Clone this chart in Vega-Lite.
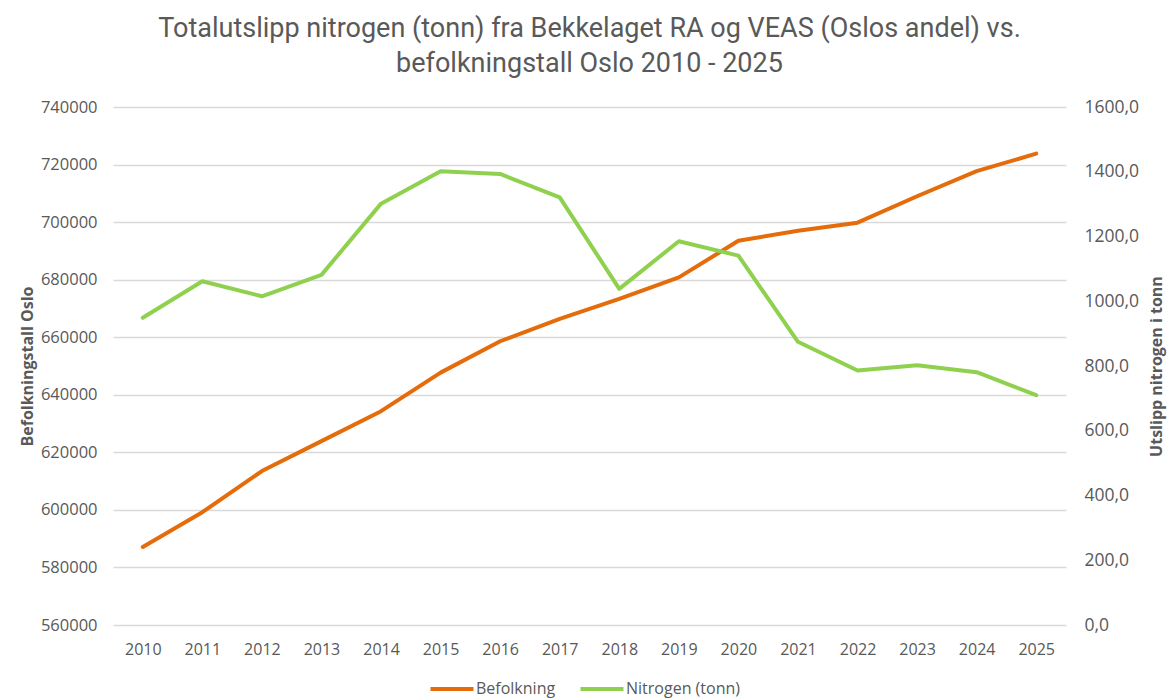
{
  "$schema": "https://vega.github.io/schema/vega-lite/v6.json",
  "autosize": {"type": "none"},
  "width": 953,
  "height": 518,
  "padding": {"left": 113, "right": 101, "top": 107, "bottom": 75},
  "background": "white",
  "title": {
    "text": ["Totalutslipp nitrogen (tonn) fra Bekkelaget RA og VEAS (Oslos andel) vs.", "befolkningstall Oslo 2010 - 2025"],
    "font": "Roboto",
    "fontSize": 27,
    "fontWeight": "normal",
    "color": "#595959",
    "lineHeight": 35,
    "anchor": "middle",
    "offset": 20
  },
  "data": {
    "values": [
      {"year": "2010", "befolkning": 587100, "nitrogen": 948.8},
      {"year": "2011", "befolkning": 599200, "nitrogen": 1061.7},
      {"year": "2012", "befolkning": 613500, "nitrogen": 1015.4},
      {"year": "2013", "befolkning": 623900, "nitrogen": 1081.5},
      {"year": "2014", "befolkning": 634300, "nitrogen": 1301.5},
      {"year": "2015", "befolkning": 647700, "nitrogen": 1401.2},
      {"year": "2016", "befolkning": 658600, "nitrogen": 1393.2},
      {"year": "2017", "befolkning": 666400, "nitrogen": 1321.0},
      {"year": "2018", "befolkning": 673300, "nitrogen": 1038.3},
      {"year": "2019", "befolkning": 680800, "nitrogen": 1185.2},
      {"year": "2020", "befolkning": 693500, "nitrogen": 1141.0},
      {"year": "2021", "befolkning": 697000, "nitrogen": 874.7},
      {"year": "2022", "befolkning": 699800, "nitrogen": 786.1},
      {"year": "2023", "befolkning": 709000, "nitrogen": 802.5},
      {"year": "2024", "befolkning": 717700, "nitrogen": 780.9},
      {"year": "2025", "befolkning": 723800, "nitrogen": 709.9}
    ]
  },
  "encoding": {
    "x": {
      "field": "year",
      "type": "ordinal",
      "title": null,
      "axis": {
        "labelAngle": 0,
        "domain": false,
        "ticks": false,
        "grid": false,
        "labelPadding": 16,
        "labelFont": "Open Sans",
        "labelFontSize": 16,
        "labelColor": "#595959"
      }
    }
  },
  "layer": [
    {
      "mark": {"type": "line", "strokeWidth": 4, "strokeCap": "round", "strokeJoin": "round"},
      "encoding": {
        "y": {
          "field": "befolkning",
          "type": "quantitative",
          "scale": {"domain": [560000, 740000], "zero": false, "nice": false},
          "axis": {
            "orient": "left",
            "values": [560000, 580000, 600000, 620000, 640000, 660000, 680000, 700000, 720000, 740000],
            "format": "d",
            "domain": false,
            "ticks": false,
            "grid": true,
            "gridColor": "#D9D9D9",
            "gridWidth": 1.3,
            "labelPadding": 16,
            "labelFont": "Open Sans",
            "labelFontSize": 16.5,
            "labelColor": "#595959",
            "title": "Befolkningstall Oslo",
            "titleFont": "Open Sans",
            "titleFontSize": 16,
            "titleFontWeight": "bold",
            "titleColor": "#595959",
            "titlePadding": 5
          }
        },
        "color": {
          "datum": "Befolkning",
          "type": "nominal",
          "scale": {"domain": ["Befolkning", "Nitrogen (tonn)"], "range": ["#E46C0A", "#8FD14F"]},
          "legend": {
            "orient": "none",
            "legendX": 315,
            "legendY": 558,
            "direction": "horizontal",
            "title": null,
            "symbolType": "stroke",
            "symbolStrokeWidth": 4,
            "symbolSize": 1850,
            "labelFont": "Open Sans",
            "labelFontSize": 16,
            "labelColor": "#595959",
            "labelOffset": 0,
            "columnPadding": 16
          }
        }
      }
    },
    {
      "mark": {"type": "line", "strokeWidth": 4, "strokeCap": "round", "strokeJoin": "round"},
      "encoding": {
        "y": {
          "field": "nitrogen",
          "type": "quantitative",
          "scale": {"domain": [0, 1600], "nice": false},
          "axis": {
            "orient": "right",
            "values": [0, 200, 400, 600, 800, 1000, 1200, 1400, 1600],
            "labelExpr": "replace(format(datum.value, '.1f'), '.', ',')",
            "domain": false,
            "ticks": false,
            "grid": false,
            "labelPadding": 18,
            "labelFont": "Open Sans",
            "labelFontSize": 17.5,
            "labelColor": "#595959",
            "title": "Utslipp nitrogen i tonn",
            "titleFont": "Open Sans",
            "titleFontSize": 16,
            "titleFontWeight": "bold",
            "titleColor": "#595959",
            "titleAngle": 270,
            "titlePadding": 26
          }
        },
        "color": {"datum": "Nitrogen (tonn)", "type": "nominal"}
      }
    }
  ],
  "resolve": {"scale": {"y": "independent"}},
  "config": {"view": {"stroke": null}}
}
